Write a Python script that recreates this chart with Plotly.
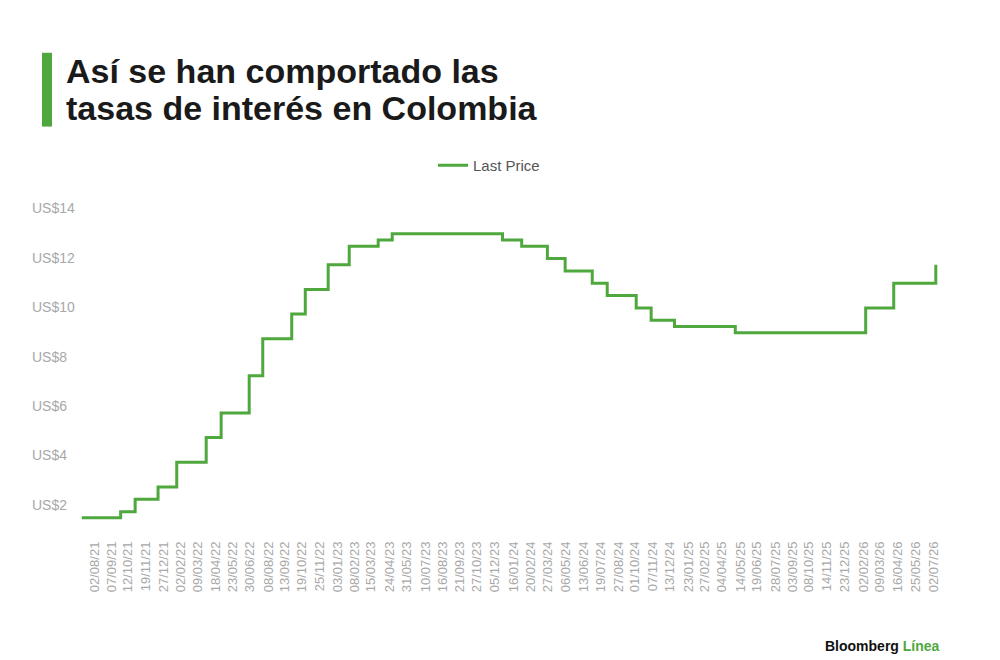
import plotly.graph_objects as go

# Tasa de política monetaria (escalones)
fechas = [
    "2021-07-05", "2021-09-26", "2021-10-27", "2021-12-15", "2022-01-24",
    "2022-03-28", "2022-04-29", "2022-06-28", "2022-07-27", "2022-09-27",
    "2022-10-26", "2022-12-14", "2023-01-28", "2023-03-31", "2023-04-30",
    "2023-12-22", "2024-02-01", "2024-03-27", "2024-05-04", "2024-07-01",
    "2024-08-02", "2024-10-03", "2024-11-04", "2024-12-24", "2025-05-03",
    "2026-02-06", "2026-04-07", "2026-07-06",
]
tasas = [
    1.75, 2.00, 2.50, 3.00, 4.00,
    5.00, 6.00, 7.50, 9.00, 10.00,
    11.00, 12.00, 12.75, 13.00, 13.25,
    13.00, 12.75, 12.25, 11.75, 11.25,
    10.75, 10.25, 9.75, 9.50, 9.25,
    10.25, 11.25, 12.00,
]

# Etiquetas del eje X
tick_fechas = [
    "2021-08-02", "2021-09-07", "2021-10-12", "2021-11-19", "2021-12-27",
    "2022-02-02", "2022-03-09", "2022-04-18", "2022-05-23", "2022-06-30",
    "2022-08-08", "2022-09-13", "2022-10-19", "2022-11-25", "2023-01-03",
    "2023-02-08", "2023-03-15", "2023-04-24", "2023-05-31", "2023-07-10",
    "2023-08-16", "2023-09-21", "2023-10-27", "2023-12-05", "2024-01-16",
    "2024-02-20", "2024-03-27", "2024-05-06", "2024-06-13", "2024-07-19",
    "2024-08-27", "2024-10-01", "2024-11-07", "2024-12-13", "2025-01-23",
    "2025-02-27", "2025-04-04", "2025-05-14", "2025-06-19", "2025-07-28",
    "2025-09-03", "2025-10-08", "2025-11-14", "2025-12-23", "2026-02-02",
    "2026-03-09", "2026-04-16", "2026-05-25", "2026-07-02",
]
tick_textos = [f"{d[8:10]}/{d[5:7]}/{d[2:4]}" for d in tick_fechas]

# Etiquetas del eje Y
y_valores = [2, 4, 6, 8, 10, 12, 14]
y_textos = [f"US${v}" for v in y_valores]

titulo = ["Así se han comportado las", "tasas de interés en Colombia"]

VERDE = "#4fa83d"

# zona del gráfico en pixeles (para ubicar los textos fuera de ella)
L, R, T, B = 80, 60, 202.6, 135.6
ALTO = 660 - T - B
ANCHO = 1000 - L - R


def px_x(x):
    return (x - L) / ANCHO


def px_y(y):
    return (660 - B - y) / ALTO


fig = go.Figure()

fig.add_trace(go.Scatter(
    x=fechas,
    y=tasas,
    mode="lines",
    line=dict(color=VERDE, width=3, shape="hv"),
    name="Last Price",
))

# etiquetas del eje Y alineadas a la izquierda, un poco por encima del valor
for v, t in zip(y_valores, y_textos):
    fig.add_annotation(
        x=px_x(30), xref="paper", xanchor="left",
        y=v, yref="y", yanchor="middle", yshift=7,
        text=t, showarrow=False,
        font=dict(family="Liberation Sans", size=14, color="#a8a8a8"),
    )

# título en dos líneas
for i, linea in enumerate(titulo):
    fig.add_annotation(
        x=px_x(64), xref="paper", xanchor="left",
        y=px_y(70 + 37 * i), yref="paper", yanchor="middle",
        text=f"<b>{linea}</b>", showarrow=False,
        font=dict(family="Liberation Sans", size=34, color="#1a1a1a"),
    )

# barra verde del título
fig.add_shape(
    type="rect", xref="paper", yref="paper",
    x0=px_x(42), x1=px_x(52), y0=px_y(52), y1=px_y(126),
    fillcolor=VERDE, line=dict(width=0),
)

# firma
fig.add_annotation(
    x=px_x(942), xref="paper", xanchor="right",
    y=px_y(647), yref="paper", yanchor="middle",
    text="<b>Bloomberg</b> <b><span style='color:#4fa83d'>Línea</span></b>",
    showarrow=False,
    font=dict(family="Liberation Sans", size=14, color="#111111"),
)

fig.update_layout(
    width=1000,
    height=660,
    margin=dict(l=L, r=R, t=T, b=B),
    paper_bgcolor="white",
    plot_bgcolor="white",
    showlegend=True,
    legend=dict(
        orientation="h",
        x=px_x(433), xanchor="left",
        y=px_y(165), yanchor="middle",
        font=dict(family="Liberation Sans", size=15, color="#555555"),
        itemwidth=30,
    ),
    xaxis=dict(
        type="date",
        range=["2021-07-01", "2026-07-15"],
        tickmode="array",
        tickvals=tick_fechas,
        ticktext=tick_textos,
        tickangle=-90,
        tickfont=dict(family="Liberation Sans", size=13, color="#a8a8a8"),
        ticklabelstandoff=14,
        showgrid=False,
        showline=False,
        zeroline=False,
        ticks="",
    ),
    yaxis=dict(
        range=[1.5, 14.5],
        showticklabels=False,
        showgrid=False,
        showline=False,
        zeroline=False,
        ticks="",
    ),
)

fig.write_html(
    "out.html",
    config={"displayModeBar": False},
    post_script="document.body.style.margin='0px';",
)
